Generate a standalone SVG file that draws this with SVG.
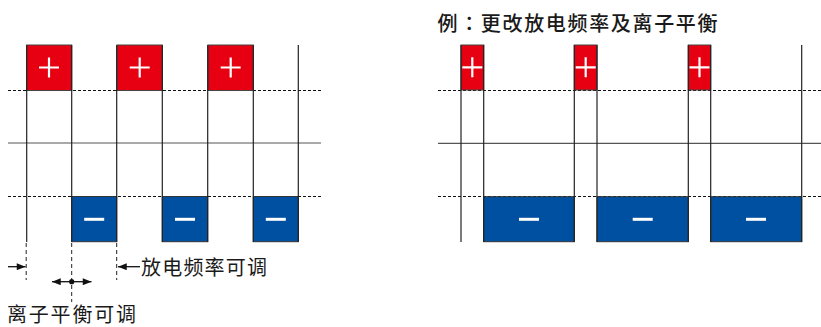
<svg xmlns="http://www.w3.org/2000/svg" width="821" height="327" viewBox="0 0 821 327">
<style>
.pos{fill:#e60012;stroke:#444;stroke-width:1}
.neg{fill:#0050a2;stroke:#333;stroke-width:1}
.sign{stroke:#fff;stroke-width:2.2;fill:none}
.minus{stroke:#fff;stroke-width:3;fill:none}
.v{stroke:#222;stroke-width:1.2;fill:none}
.h{stroke:#555;stroke-width:1.2;fill:none}
.d{stroke:#111;stroke-width:1;stroke-dasharray:3 2;fill:none}
.dv{stroke:#222;stroke-width:1;stroke-dasharray:4 3;fill:none}
.ar{stroke:#111;stroke-width:1.3;fill:none}
.t{font-family:"Noto Sans CJK SC","Noto Sans",sans-serif;fill:#1a1a1a;font-size:20px}
</style>
<defs>
<marker id="ah" viewBox="0 0 10 8" refX="10" refY="4" markerWidth="10" markerHeight="7" markerUnits="userSpaceOnUse" orient="auto">
<path d="M0,0 L10,4 L0,8 Z" fill="#111"/>
</marker>
</defs>
<g id="grid">
<path class="d" d="M8,90.5 H321 M8,196.5 H321"/>
<path class="h" d="M8,143 H321"/>
<path class="d" d="M438,90.5 H821 M438,196.5 H821"/>
<path class="h" d="M438,143.3 H821"/>
</g>
<g id="pulses-left">
<g id="p1"><rect class="pos" x="26.7" y="45" width="45" height="45.5"/><path class="sign" d="M39,67.5 H59 M49,57.5 V77.5"/></g>
<g id="p2"><rect class="pos" x="117" y="45" width="45.3" height="45.5"/><path class="sign" d="M129.7,67.5 H149.7 M139.7,57.5 V77.5"/></g>
<g id="p3"><rect class="pos" x="208" y="45" width="45.3" height="45.5"/><path class="sign" d="M220.7,67.5 H240.7 M230.7,57.5 V77.5"/></g>
<g id="n1"><rect class="neg" x="71.7" y="196.5" width="45" height="45.2"/><path class="minus" d="M84.2,219.3 H104.2"/></g>
<g id="n2"><rect class="neg" x="162.3" y="196.5" width="45.4" height="45.2"/><path class="minus" d="M175,219.3 H195"/></g>
<g id="n3"><rect class="neg" x="253.3" y="196.5" width="45" height="45.2"/><path class="minus" d="M265.8,219.3 H285.8"/></g>
</g>
<g id="pulses-right">
<g id="rp1"><rect class="pos" x="461" y="45" width="22.7" height="45"/><path class="sign" d="M462.3,67.3 H482.3 M472.3,57.3 V77.3"/></g>
<g id="rp2"><rect class="pos" x="574.3" y="45" width="22.7" height="45"/><path class="sign" d="M575.7,67.3 H595.7 M585.7,57.3 V77.3"/></g>
<g id="rp3"><rect class="pos" x="688.3" y="45" width="22.4" height="45"/><path class="sign" d="M689.5,67.3 H709.5 M699.5,57.3 V77.3"/></g>
<g id="rn1"><rect class="neg" x="483.7" y="196.7" width="90.6" height="45"/><path class="minus" d="M519,219.3 H539"/></g>
<g id="rn2"><rect class="neg" x="597" y="196.7" width="91.3" height="45"/><path class="minus" d="M632.7,219.3 H652.7"/></g>
<g id="rn3"><rect class="neg" x="710.7" y="196.7" width="91" height="45"/><path class="minus" d="M746,219.3 H766"/></g>
</g>
<g id="connectors">
<path class="v" d="M26.7,45 V242 M71.7,45 V242 M116.7,45 V242 M162.3,45 V242 M207.7,45 V242 M253.3,45 V242 M298.3,45 V242"/>
<path class="v" d="M461,45 V242 M483.7,45 V242 M574.3,45 V242 M597,45 V242 M688.3,45 V242 M710.7,45 V242 M801.7,45 V242"/>
<path class="dv" d="M26.2,243 V280 M71.7,243 V302 M116.7,243 V280"/>
<path class="ar" d="M8,266.7 H25.5" marker-end="url(#ah)"/>
<path class="ar" d="M140,266.7 H118" marker-end="url(#ah)"/>
<path class="ar" d="M71.7,281.7 H52" marker-end="url(#ah)"/>
<path class="ar" d="M71.7,281.7 H91.5" marker-end="url(#ah)"/>
<circle cx="71.7" cy="281.7" r="2.6" fill="#111"/>
</g>
<g id="labels">
<text class="t" x="141" y="274.5" textLength="126" lengthAdjust="spacing">放电频率可调</text>
<text class="t" x="7" y="321.5" textLength="129" lengthAdjust="spacing">离子平衡可调</text>
<text class="t" x="437.5" y="31.3" font-size="21" font-weight="500" textLength="280" lengthAdjust="spacing" style="font-family:'Noto Sans CJK JP','Noto Sans CJK SC',sans-serif">例：更改放电频率及离子平衡</text>
</g>
</svg>
